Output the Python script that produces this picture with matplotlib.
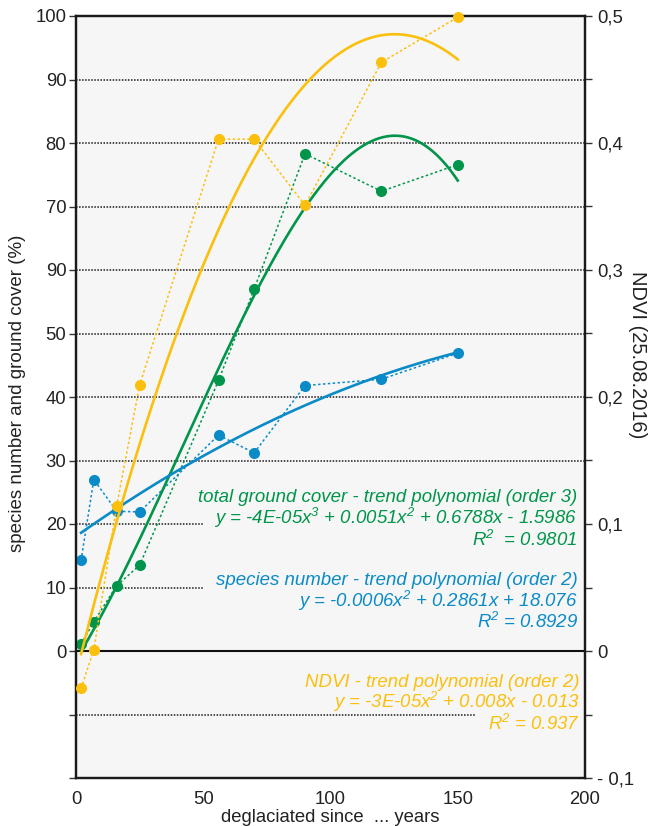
import numpy as np
import matplotlib
matplotlib.use("Agg")
import matplotlib.pyplot as plt

plt.rcParams['font.family'] = ['Liberation Sans', 'DejaVu Sans']
plt.rcParams['mathtext.fontset'] = 'custom'
plt.rcParams['mathtext.rm'] = 'Liberation Sans:italic'
plt.rcParams['mathtext.it'] = 'Liberation Sans:italic'

# ---- data ----
years = [2, 7, 16, 25, 56, 70, 90, 120, 150]
ground_cover = [1.1, 4.6, 10.3, 13.5, 42.6, 57.0, 78.3, 72.4, 76.6]
species = [14.3, 27.0, 22.0, 21.9, 34.0, 31.2, 41.8, 42.8, 46.9]
ndvi = [-0.0295, 0.001, 0.1145, 0.2095, 0.403, 0.403, 0.351, 0.4635, 0.499]

left_ticks = [-20, -10, 0, 10, 20, 30, 40, 50, 60, 70, 80, 90, 100]
left_labels = ['', '', '0', '10', '20', '30', '40', '50', '90', '70', '80', '90', '100']
right_ticks = [-0.1, -0.05, 0, 0.05, 0.1, 0.15, 0.2, 0.25, 0.3, 0.35, 0.4, 0.45, 0.5]
right_labels = ['- 0,1', '', '0', '', '0,1', '', '0,2', '', '0,3', '', '0,4', '', '0,5']
x_ticks = [0, 50, 100, 150, 200]

green_text = ["total ground cover - trend polynomial (order 3)",
              "y = -4E-05x$^3$ + 0.0051x$^2$ + 0.6788x - 1.5986",
              "R$^2$  = 0.9801"]
blue_text = ["species number - trend polynomial (order 2)",
             "y = -0.0006x$^2$ + 0.2861x + 18.076",
             "R$^2$ = 0.8929"]
yellow_text = ["NDVI - trend polynomial (order 2)",
               "y = -3E-05x$^2$ + 0.008x - 0.013",
               "R$^2$ = 0.937"]

GREEN = '#00954a'
BLUE = '#0a8bc7'
YELLOW = '#fbbf0d'
TXT = '#222222'

fig = plt.figure(figsize=(6.48, 8.26), dpi=100)
ax = fig.add_axes([76/648, 48/826, 509/648, 762/826])
ax.set_facecolor('#f6f6f6')
ax.set_xlim(0, 200)
ax.set_ylim(-20, 100)

# grid lines (dotted)
gstyle = dict(color='#1a1a1a', lw=1.1, linestyle=(0, (1.0, 1.0)), zorder=1)
for lvl in [30, 40, 50, 60, 70, 80, 90]:
    ax.hlines(lvl, 0, 200, **gstyle)
for lvl in [10, 20]:
    ax.hlines(lvl, 0, 50, **gstyle)
ax.hlines(-10, 0, 157, **gstyle)
ax.axhline(0, color='#111111', lw=1.5, zorder=2)

# trend fits
xs = np.linspace(2, 150, 300)
gfit = np.polyval(np.polyfit(years, ground_cover, 3), xs)
bfit = np.polyval(np.polyfit(years, species, 2), xs)

ax.plot(years, ground_cover, color=GREEN, lw=1.1, linestyle=(0, (1.6, 1.6)), zorder=3)
ax.plot(years, species, color=BLUE, lw=1.1, linestyle=(0, (1.6, 1.6)), zorder=3)
ax.plot(xs, gfit, color=GREEN, lw=1.9, zorder=4)
ax.plot(xs, bfit, color=BLUE, lw=1.9, zorder=4)
ax.plot(years, ground_cover, 'o', color=GREEN, ms=8, mec='none', zorder=5)
ax.plot(years, species, 'o', color=BLUE, ms=8, mec='none', zorder=5)

ax2 = ax.twinx()
ax2.set_ylim(-0.1, 0.5)
yfit = np.polyval(np.polyfit(years, ndvi, 2), xs)
ax2.plot(years, ndvi, color=YELLOW, lw=1.1, linestyle=(0, (1.6, 1.6)), zorder=3)
ax2.plot(xs, yfit, color=YELLOW, lw=1.9, zorder=4)
ax2.plot(years, ndvi, 'o', color=YELLOW, ms=8, mec='none', zorder=5, clip_on=False)

# axes styling
for a in (ax, ax2):
    for s in a.spines.values():
        s.set_linewidth(1.6)
        s.set_color('#1a1a1a')

ax.set_xticks(x_ticks)
ax.set_xticklabels([str(v) for v in x_ticks])
ax.tick_params(axis='x', length=0, pad=9, labelsize=13.3, labelcolor=TXT)
ax.set_yticks(left_ticks)
ax.set_yticklabels(left_labels)
ax.tick_params(axis='y', direction='out', length=5, width=1.0, pad=2,
               labelsize=13.3, labelcolor=TXT, color='#333333')
ax2.set_yticks(right_ticks)
ax2.set_yticklabels(right_labels)
ax2.tick_params(axis='y', direction='out', length=5, width=1.0, pad=4,
                labelsize=13.3, labelcolor=TXT, color='#333333')

ax.set_xlabel("deglaciated since  ... years", fontsize=13.3, color=TXT, labelpad=1)
fig.text(18/648, 1 - 393/826, "species number and ground cover (%)", rotation=90,
         ha='center', va='center', fontsize=13.5, color=TXT)
fig.text(637/648, 1 - 355/826, "NDVI (25.08.2016)", rotation=270,
         ha='center', va='center', fontsize=14.5, color=TXT)

# annotations
def block(lines, x, ys, color):
    for t, yv in zip(lines, ys):
        ax.text(x, yv, t, color=color, fontsize=13.4, style='italic',
                ha='right', va='baseline', zorder=6)

block(green_text, 196.9, [23.5, 20.0, 16.5], GREEN)
block(blue_text, 197.2, [10.4, 6.9, 3.6], BLUE)
block(yellow_text, 198.0, [-5.7, -9.0, -12.4], YELLOW)

fig.savefig("out.png", dpi=100)
